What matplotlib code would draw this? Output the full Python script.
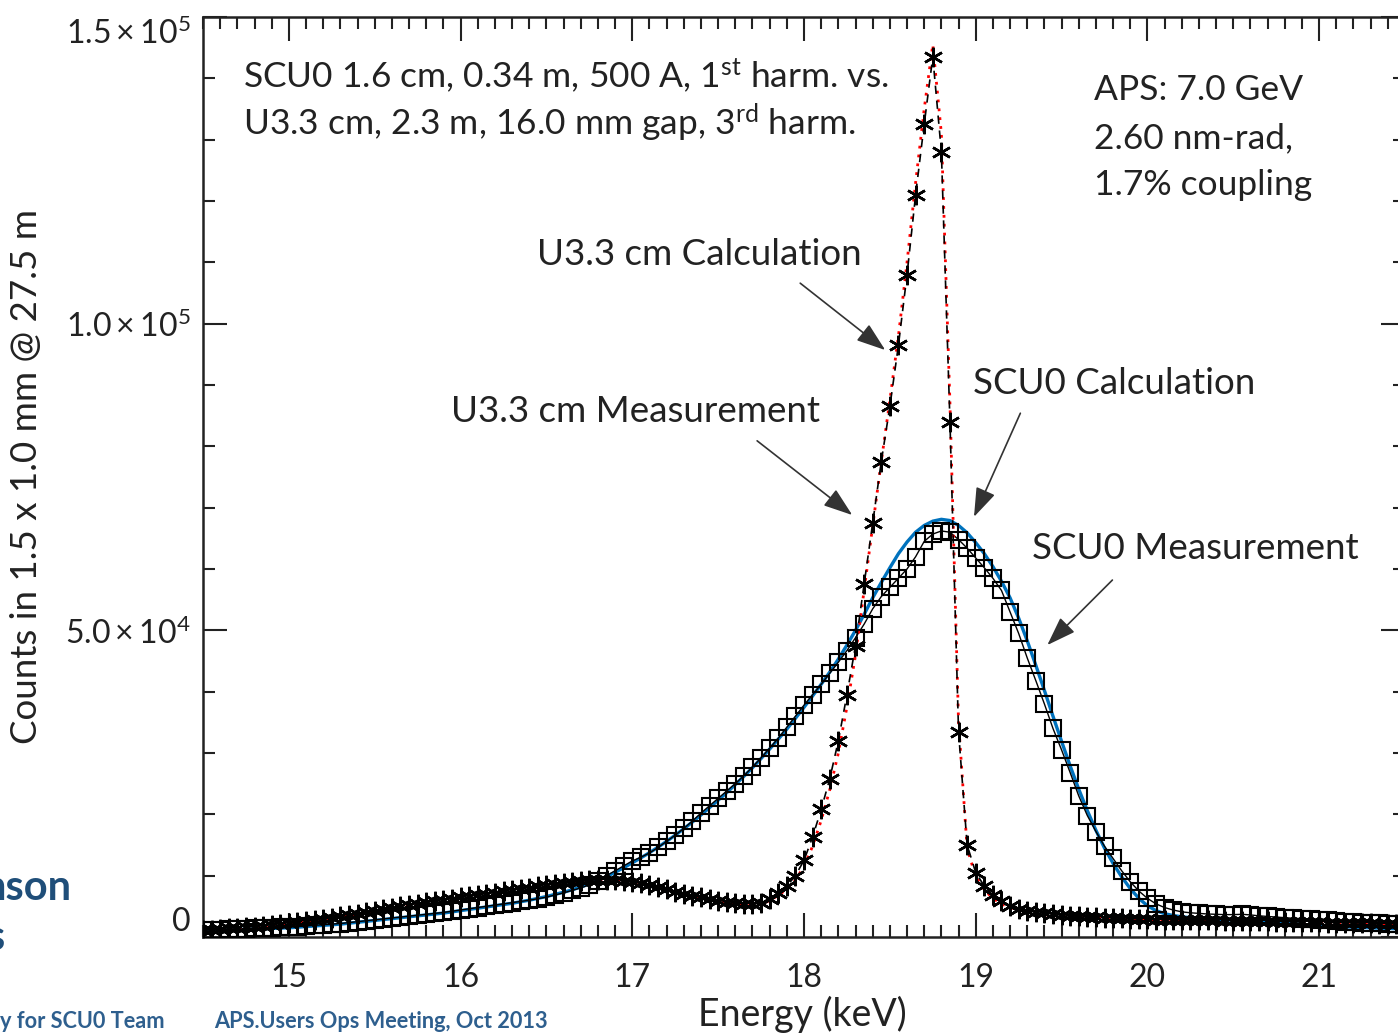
import numpy as np
import matplotlib.pyplot as plt
from matplotlib.ticker import MultipleLocator

plt.rcParams['mathtext.fontset'] = 'custom'
plt.rcParams['mathtext.rm'] = 'Lato'
plt.rcParams['mathtext.it'] = 'Lato'

W, H = 1398, 1034

# energy sampling (keV)
energy = np.linspace(14.5, 21.5, 141)

# U3.3 cm, 3rd harmonic: measured counts (asterisks)
u33_meas = [
    1100, 1200, 1300, 1400, 1500, 1600, 1700, 1850, 2000, 2150,
    2300, 2450, 2600, 2750, 2950, 3150, 3350, 3550, 3800, 4050,
    4300, 4550, 4800, 5000, 5250, 5450, 5650, 5850, 6050, 6250,
    6450, 6650, 6850, 7050, 7250, 7450, 7650, 7850, 8050, 8250,
    8450, 8650, 8850, 9000, 9150, 9250, 9300, 9300, 9250, 9150,
    9000, 8750, 8450, 8100, 7750, 7400, 7050, 6750, 6450, 6150,
    5900, 5700, 5550, 5450, 5400, 5500, 6200, 7200, 8300, 10000,
    12500, 16300, 20800, 25800, 32000, 39500, 47500, 57500, 67500, 77500,
    86500, 96500, 108000, 121000, 132500, 143500, 128000, 84000, 33500, 15000,
    10500, 8300, 6800, 5800, 5100, 4600, 4300, 4050, 3850, 3700,
    3550, 3450, 3350, 3250, 3200, 3150, 3100, 3050, 3000, 2950,
    2900, 2850, 2850, 2800, 2800, 2750, 2750, 2700, 2700, 2650,
    2650, 2600, 2600, 2550, 2550, 2500, 2500, 2450, 2450, 2400,
    2400, 2350, 2350, 2300, 2300, 2250, 2250, 2200, 2200, 2150,
    2100,
]

# U3.3 cm calculation (red dotted)
u33_calc = [
    1050, 1150, 1250, 1350, 1450, 1550, 1650, 1800, 1950, 2100,
    2250, 2400, 2550, 2700, 2900, 3100, 3300, 3500, 3750, 4000,
    4250, 4500, 4750, 4950, 5200, 5400, 5600, 5800, 6000, 6200,
    6400, 6600, 6800, 7000, 7200, 7400, 7600, 7800, 8000, 8200,
    8400, 8600, 8800, 8950, 9100, 9200, 9250, 9250, 9200, 9100,
    8950, 8700, 8400, 8050, 7700, 7350, 7000, 6700, 6400, 6100,
    5850, 5650, 5500, 5400, 5350, 5400, 5900, 6800, 7800, 9300,
    11500, 14800, 19000, 24000, 30000, 37500, 46000, 56500, 67000, 77500,
    87500, 98000, 110000, 123000, 135000, 145500, 131000, 87000, 35000, 14500,
    9800, 7700, 6300, 5400, 4800, 4350, 4050, 3850, 3650, 3500,
    3400, 3300, 3200, 3150, 3100, 3050, 3000, 2950, 2900, 2850,
    2800, 2750, 2750, 2700, 2700, 2650, 2650, 2600, 2600, 2550,
    2550, 2500, 2500, 2450, 2450, 2400, 2400, 2350, 2350, 2300,
    2300, 2250, 2250, 2200, 2200, 2150, 2150, 2100, 2100, 2050,
    2000,
]

# SCU0, 1st harmonic: measured counts (squares)
scu0_meas = [
    1100, 1150, 1200, 1250, 1300, 1350, 1400, 1450, 1500, 1550,
    1600, 1700, 1800, 1900, 2000, 2100, 2200, 2350, 2500, 2650,
    2800, 2950, 3100, 3250, 3400, 3550, 3700, 3850, 4000, 4200,
    4400, 4600, 4800, 5000, 5200, 5400, 5600, 5800, 6000, 6250,
    6500, 6850, 7200, 7600, 8000, 8500, 9200, 10000, 10800, 11600,
    12400, 13000, 13700, 14600, 15600, 16600, 17700, 18900, 20200, 21400,
    22600, 23800, 25000, 26300, 27700, 29200, 30800, 32400, 34200, 36000,
    37800, 39500, 41200, 43000, 44800, 46700, 48800, 51000, 53500, 55500,
    57000, 58500, 60000, 62000, 64500, 65700, 66200, 66000, 64800, 63400,
    61800, 60200, 58500, 56500, 53000, 49500, 45500, 41800, 38000, 34000,
    30500, 26800, 23000, 19800, 17200, 14800, 12800, 10800, 9000, 7500,
    6300, 5400, 4800, 4400, 4100, 3950, 3850, 3750, 3700, 3650,
    3650, 3700, 3600, 3450, 3350, 3250, 3150, 3050, 3000, 2900,
    2800, 2700, 2600, 2500, 2400, 2350, 2300, 2250, 2200, 2150,
    2100,
]

# SCU0 calculation (blue line)
scu0_calc = [
    1000, 1050, 1100, 1150, 1200, 1250, 1300, 1350, 1400, 1450,
    1500, 1600, 1700, 1800, 1900, 2000, 2100, 2250, 2400, 2550,
    2700, 2850, 3000, 3150, 3300, 3450, 3600, 3750, 3900, 4100,
    4300, 4500, 4700, 4900, 5100, 5300, 5500, 5750, 6000, 6300,
    6600, 6950, 7300, 7700, 8150, 8650, 9200, 9850, 10550, 11300,
    12100, 12900, 13750, 14650, 15600, 16600, 17650, 18750, 19900, 21100,
    22300, 23550, 24850, 26200, 27600, 29100, 30650, 32250, 33900, 35650,
    37450, 39300, 41200, 43200, 45300, 47600, 50000, 52600, 55300, 57800,
    60200, 62500, 64400, 66000, 67100, 67800, 68100, 67900, 67100, 65900,
    64300, 62500, 60400, 58000, 55300, 52000, 48300, 44300, 40200, 36000,
    31900, 27900, 24100, 20600, 17400, 14500, 12000, 9800, 7900, 6300,
    5100, 4300, 3800, 3500, 3300, 3150, 3050, 2950, 2850, 2800,
    2750, 2700, 2650, 2550, 2450, 2350, 2250, 2150, 2050, 1950,
    1850, 1750, 1700, 1650, 1600, 1550, 1500, 1450, 1400, 1350,
    1300,
]

x_ticks = [15, 16, 17, 18, 19, 20, 21]
y_ticks = [0, 5.0e4, 1.0e5, 1.5e5]
y_tick_labels = [r'0', r'$5.0\times10^4$', r'$1.0\times10^5$', r'$1.5\times10^5$']

fig = plt.figure(figsize=(W / 100, H / 100), dpi=100)
# axes run slightly past the right edge of the figure
ax = fig.add_axes([203 / W, 97 / H, 1202 / W, 920 / H])

ax.plot(energy, scu0_calc, color='#0072BD', lw=2.4, zorder=2)
ax.plot(energy, scu0_meas, color='black', lw=1.0, marker='s', ms=11.5,
        mfc='none', mec='black', mew=1.5, zorder=3)
ax.plot(energy, u33_calc, color='red', lw=2.0, ls=(0, (1, 2.2)), zorder=4)
ax.plot(energy, u33_meas, color='black', lw=1.2, ls=(0, (5, 4)),
        marker=(6, 2, 0), ms=14, mew=1.8, zorder=5)

ax.set_xlim(14.5, 21.5)
ax.set_ylim(0, 1.5e5)
ax.set_xticks(x_ticks)
ax.set_xticklabels([str(t) for t in x_ticks])
ax.set_yticks(y_ticks)
ax.set_yticklabels(y_tick_labels)
ax.xaxis.set_minor_locator(MultipleLocator(0.1))
ax.yaxis.set_minor_locator(MultipleLocator(1.0e4))

ax.tick_params(which='both', direction='in', top=True, right=True,
               width=1.5, color='#222222')
ax.tick_params(which='major', length=17)
ax.tick_params(which='minor', length=8.5)
ax.tick_params(axis='x', which='major', pad=19)
ax.tick_params(axis='y', which='major', pad=9)
for lab in ax.get_xticklabels() + ax.get_yticklabels():
    lab.set_fontfamily('Lato')
    lab.set_fontsize(23)
    lab.set_color('#222222')
ylabs = ax.get_yticklabels()
ylabs[0].set_verticalalignment('bottom')
ylabs[-1].set_verticalalignment('top')
for sp in ax.spines.values():
    sp.set_linewidth(1.8)
    sp.set_color('#222222')


def ftext(x, y, s, **kw):
    kw.setdefault('va', 'baseline')
    kw.setdefault('family', 'Lato')
    kw.setdefault('color', '#222222')
    return fig.text(x / W, 1 - y / H, s, **kw)


ftext(27, 477, 'Counts in 1.5 x 1.0 mm @ 27.5 m', rotation=90,
      ha='center', va='center', fontsize=26.5)
ftext(802, 1026, 'Energy (keV)', ha='center', fontsize=27)

ann = dict(fontsize=26.5)
ftext(243, 88, r'SCU0 1.6 cm, 0.34 m, 500 A, 1$^{\mathrm{st}}$ harm. vs.', fontsize=25.5)
ftext(243, 135, r'U3.3 cm, 2.3 m, 16.0 mm gap, 3$^{\mathrm{rd}}$ harm.', fontsize=25.5)
ftext(1094, 100, 'APS: 7.0 GeV', fontsize=25.5)
ftext(1094, 148, '2.60 nm-rad,', fontsize=25.5)
ftext(1094, 195, '1.7% coupling', fontsize=25.5)
ftext(537, 265, 'U3.3 cm Calculation', **ann)
ftext(451, 422, 'U3.3 cm Measurement', **ann)
ftext(973, 394, 'SCU0 Calculation', **ann)
ftext(1032, 559, 'SCU0 Measurement', **ann)

# pointer arrows (data coordinates)
arrows = [
    ((17.978, 106600), (18.473, 95700)),
    ((17.727, 80900), (18.281, 68800)),
    ((19.26, 85400), (18.99, 68500)),
    ((19.796, 58200), (19.417, 47600)),
]
for start, end in arrows:
    ax.annotate('', xy=end, xytext=start, xycoords='data',
                arrowprops=dict(arrowstyle='-|>,head_length=1.0,head_width=0.35',
                                mutation_scale=18, lw=1.2, color='#333333',
                                shrinkA=0, shrinkB=0), zorder=6)

# slide footer
ftext(72, 900, 'nson', ha='right', fontsize=30, fontweight='bold', color='#1F4E79')
ftext(5, 950, 's', ha='right', fontsize=30, fontweight='bold', color='#1F4E79')
ftext(165, 1028, 'y for SCU0 Team', ha='right', fontsize=15.7, fontweight='bold', color='#2E5F8E')
ftext(214, 1028, 'APS.Users Ops Meeting, Oct 2013', ha='left', fontsize=15.7,
      fontweight='bold', color='#2E5F8E')

fig.savefig('out.png', dpi=100)
